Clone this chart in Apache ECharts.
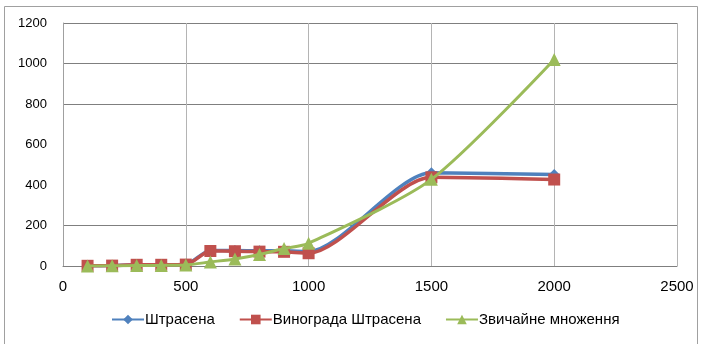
<!DOCTYPE html>
<html>
<head>
<meta charset="utf-8">
<script src="https://cdn.jsdelivr.net/npm/echarts@6/dist/echarts.min.js"></script>
<style>
  html, body { margin: 0; padding: 0; background: #fff; }
  #chart { width: 701px; height: 344px; }
</style>
</head>
<body>
<div id="chart"></div>
<script>
// Matrix size (n) on the x axis
const sizes = [100, 200, 300, 400, 500, 600, 700, 800, 900, 1000, 1500, 2000];
// Running time for each algorithm
const strassen = [1, 2, 5, 6, 8, 77, 76, 75, 75, 72, 460, 452];
const winogradStrassen = [1, 2, 6, 6, 7, 74, 73, 71, 70, 63, 438, 427];
const naive = [0, 1, 2, 3, 5, 20, 35, 57, 86, 112, 428, 1020];

const seriesNames = ['Штрасена', 'Винограда Штрасена', 'Звичайне множення'];
const xTicks = [0, 500, 1000, 1500, 2000, 2500];
const yTicks = [0, 200, 400, 600, 800, 1000, 1200];

const pairs = arr => sizes.map((x, i) => [x, arr[i]]);

const chart = echarts.init(document.getElementById('chart'), null, { renderer: 'canvas' });

const font = 'Liberation Sans, Arial, sans-serif';
const gridGray = '#7f7f7f';
const none = 'rgba(255,255,255,0)';
const smoothness = 0.25;

chart.setOption({
  animation: false,
  backgroundColor: '#ffffff',
  graphic: [{
    type: 'rect',
    shape: { x: 4.5, y: 6.5, width: 693, height: 345 },
    style: { fill: 'none', stroke: '#a0a0a0', lineWidth: 1 },
    silent: true
  }],
  grid: { left: 63, right: 24, top: 23, bottom: 78 },
  legend: {
    bottom: 12,
    left: 106,
    itemWidth: 32,
    itemHeight: 12,
    itemGap: 24,
    textStyle: { fontFamily: font, fontSize: 15, color: '#000', padding: [0, 0, 0, -4] },
    data: seriesNames
  },
  xAxis: {
    type: 'value',
    min: xTicks[0],
    max: xTicks[xTicks.length - 1],
    interval: 500,
    axisLine: { show: true, lineStyle: { color: gridGray, width: 1 } },
    axisTick: { show: false },
    axisLabel: { fontFamily: font, fontSize: 15, color: '#000', margin: 13, formatter: v => String(v) },
    splitLine: { show: true, lineStyle: { color: '#b4b4b4', width: 1 } }
  },
  yAxis: {
    type: 'value',
    min: yTicks[0],
    max: yTicks[yTicks.length - 1],
    interval: 200,
    axisLine: { show: true, lineStyle: { color: '#a0a0a0', width: 1 } },
    axisTick: { show: false },
    axisLabel: { fontFamily: font, fontSize: 13, color: '#000', margin: 16, formatter: v => String(v) },
    splitLine: {
      show: true,
      showMinLine: false,
      showMaxLine: true,
      // one colour per line from 200 up to 1200; 400 and 600 stay blank
      lineStyle: { color: [gridGray, none, none, gridGray, gridGray, gridGray], width: 1 }
    }
  },
  series: [
    {
      name: seriesNames[0],
      type: 'line',
      smooth: smoothness,
      data: pairs(strassen),
      symbol: 'diamond',
      symbolSize: 11,
      color: '#4F81BD',
      lineStyle: { width: 3.5, color: '#4F81BD' },
      itemStyle: { color: '#4F81BD' },
      z: 2
    },
    {
      name: seriesNames[1],
      type: 'line',
      smooth: smoothness,
      data: pairs(winogradStrassen),
      symbol: 'rect',
      symbolSize: 12,
      color: '#C0504D',
      lineStyle: { width: 3.5, color: '#C0504D' },
      itemStyle: { color: '#C0504D' },
      z: 3
    },
    {
      name: seriesNames[2],
      type: 'line',
      smooth: smoothness,
      data: pairs(naive),
      symbol: 'triangle',
      symbolSize: 13,
      color: '#9BBB59',
      lineStyle: { width: 3, color: '#9BBB59' },
      itemStyle: { color: '#9BBB59' },
      z: 4
    }
  ]
});
</script>
</body>
</html>
